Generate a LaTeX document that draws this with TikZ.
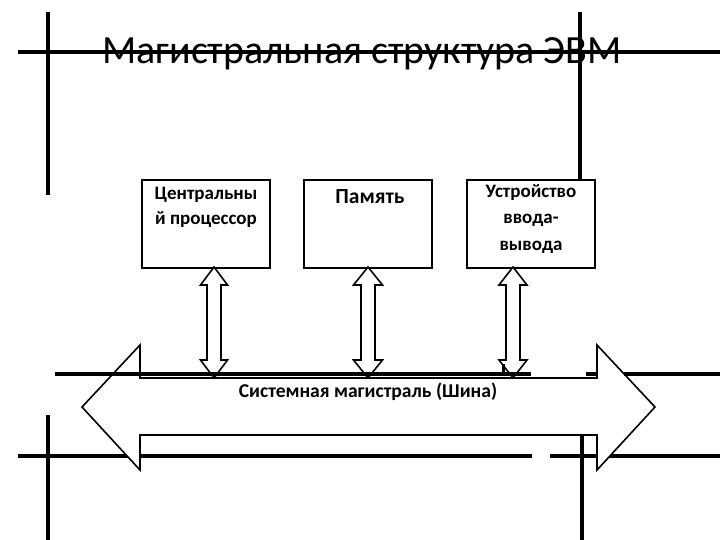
\documentclass[tikz,border=0pt]{standalone}
\usepackage{fontspec}
\setmainfont{Carlito}
\newcommand{\vdarr}[6]{\draw[blk] (#1,#2) -- ({#1+#5},{#2+#6}) -- ({#1+#4},{#2+#6}) -- ({#1+#4},{#3-#6}) -- ({#1+#5},{#3-#6}) -- (#1,#3) -- ({#1-#5},{#3-#6}) -- ({#1-#4},{#3-#6}) -- ({#1-#4},{#2+#6}) -- ({#1-#5},{#2+#6}) -- cycle;}
\begin{document}
\begin{tikzpicture}[x=1pt,y=-1pt,
  bg/.style={line width=4pt},
  boxst/.style={draw, line width=1.6pt, minimum width=128pt, minimum height=88pt, inner sep=0pt, fill=white},
  blk/.style={draw, line width=1.6pt, fill=white, line join=miter},
  lbl/.style={font=\bfseries\fontsize{19}{25}\selectfont, align=center, inner sep=0pt, anchor=north}
]
\useasboundingbox (0,0) rectangle (720,540);
% background lines
\draw[bg] (18,52) -- (720,52);
\draw[bg] (48,12) -- (48,195);
\draw[bg] (580,12) -- (580,180);
\draw[bg] (18,456) -- (532,456);
\draw[bg] (550,456) -- (720,456);
\draw[bg] (48,415) -- (48,540);
\draw[bg] (582,433) -- (582,540);
% title
\node[inner sep=0pt, anchor=base, font=\fontsize{40}{48}\selectfont] (title) at (362,64) {Магистральная структура ЭВМ};
% boxes
\node[boxst] (cpu) at (206,224) {};
\node[boxst] (mem) at (368,224) {};
\node[boxst] (io) at (531,224) {};
\node[lbl] (cputxt) at (206,186.5) {Центральны\\й процессор};
\node[lbl, font=\bfseries\fontsize{21.5}{25}\selectfont] (memtxt) at (370,189) {Память};
\node[lbl, font=\bfseries\fontsize{19}{26.5}\selectfont] (iotxt) at (531,184) {Устройство\\ввода-\\вывода};
% bus
\draw[blk] (82,407) -- (140,345) -- (140,378) -- (597,378) -- (597,345) -- (655,407) -- (597,470) -- (597,435) -- (140,435) -- (140,470) -- cycle;
\node[inner sep=0pt, anchor=base, font=\bfseries\fontsize{19.6}{22}\selectfont] (bus) at (368,397) {Системная магистраль (Шина)};
% vertical double arrows
\vdarr{214}{267}{378}{7}{13.5}{18}
\vdarr{368}{267}{378}{7}{14.5}{18}
\vdarr{513}{267}{378}{7}{14}{18}
% middle background line over the bus
\draw[bg] (55,374) -- (531,374);
\draw[bg] (586,374) -- (597,374);
\draw[bg] (624,374) -- (720,374);
\draw[line width=3pt] (503,364) -- (503,376);
\end{tikzpicture}
\end{document}
